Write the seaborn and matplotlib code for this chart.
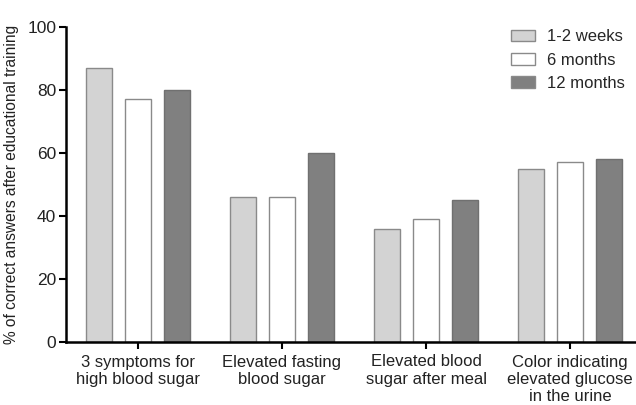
import matplotlib
matplotlib.use("Agg")
import matplotlib.pyplot as plt
import seaborn as sns
import pandas as pd

categories = ["3 symptoms for\nhigh blood sugar",
              "Elevated fasting\nblood sugar",
              "Elevated blood\nsugar after meal",
              "Color indicating\nelevated glucose\nin the urine"]
series_names = ["1-2 weeks", "6 months", "12 months"]
vals_1_2_weeks = [87, 46, 36, 55]
vals_6_months = [77, 46, 39, 57]
vals_12_months = [80, 60, 45, 58]
y_ticks = [0, 20, 40, 60, 80, 100]

rows = []
for name, vals in zip(series_names, [vals_1_2_weeks, vals_6_months, vals_12_months]):
    for c, v in zip(categories, vals):
        rows.append({"category": c, "period": name, "value": v})
df = pd.DataFrame(rows)

sns.set_theme(style="ticks")
plt.rcParams['font.family'] = ['Liberation Sans', 'DejaVu Sans']

fig = plt.figure(figsize=(6.36, 4.05), dpi=100)
ax = fig.add_axes([66/636, 63/405, 576/636, 315/405])

palette = {"1-2 weeks": "#d3d3d3", "6 months": "#ffffff", "12 months": "#808080"}
sns.barplot(data=df, x="category", y="value", hue="period", order=categories,
            hue_order=series_names, palette=palette, width=0.81, gap=0.33,
            ax=ax, errorbar=None, saturation=1, edgecolor="#8a8a8a", linewidth=1.0)

for bar_container, name in zip(ax.containers, series_names):
    for p in bar_container:
        if name == "12 months":
            p.set_edgecolor("#707070")

ax.set_ylim(0, 100)
ax.set_xlim(-0.5, 3.5)
ax.set_yticks(y_ticks)
ax.set_xlabel("")
ax.set_ylabel("% of correct answers after educational training", fontsize=11.2,
              color="#222222", labelpad=6)
ax.tick_params(axis="y", labelsize=12.5, length=5, width=1.5, color="black",
               labelcolor="#222222", pad=2)
ax.tick_params(axis="x", labelsize=12, length=5, width=1.5, color="black",
               labelcolor="#222222", pad=4)
sns.despine(ax=ax)
for s in ["left", "bottom"]:
    ax.spines[s].set_linewidth(1.8)
    ax.spines[s].set_color("black")

leg = ax.legend(loc="upper right", bbox_to_anchor=(0.99, 1.03), frameon=False, fontsize=12,
                handlelength=1.4, handleheight=0.7, handletextpad=0.72, labelspacing=0.5,
                borderpad=0.2)
leg.set_title(None)

fig.savefig("out.png", dpi=100)
